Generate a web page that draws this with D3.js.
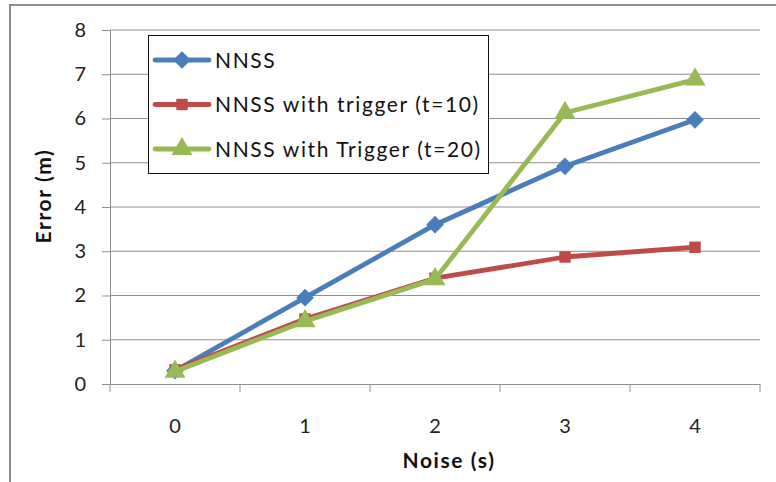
<!DOCTYPE html>
<html>
<head>
<meta charset="utf-8">
<script src="https://cdn.jsdelivr.net/npm/d3@7"></script>
<style>
  html, body { margin: 0; padding: 0; background: #fff; }
  svg { display: block; font-family: Lato, "Open Sans", sans-serif; }
</style>
</head>
<body>
<svg id="chart" width="776" height="482"></svg>
<script>
// Noise levels (s) on the x axis
const categories = ["0", "1", "2", "3", "4"];
// Localisation error (m) per method
const nnss = [0.30, 1.95, 3.60, 4.92, 5.97];
const nnssTrigger10 = [0.32, 1.47, 2.39, 2.87, 3.09];
const nnssTrigger20 = [0.28, 1.42, 2.37, 6.13, 6.88];
const yTicks = [0, 1, 2, 3, 4, 5, 6, 7, 8];

const seriesNames = ["NNSS", "NNSS with trigger (t=10)", "NNSS with Trigger (t=20)"];
const seriesColors = ["#4A7EBB", "#BE4B48", "#98B954"];
const seriesShapes = [d3.symbolDiamond2, d3.symbolSquare, d3.symbolTriangle];
const seriesSizes = [200, 130, 190];

const series = [nnss, nnssTrigger10, nnssTrigger20].map((values, i) => ({
  name: seriesNames[i], values, color: seriesColors[i], shape: seriesShapes[i], size: seriesSizes[i]
}));

const svg = d3.select("#chart");
const plot = { left: 110, right: 760, top: 30, bottom: 384 };
const font = "Lato, sans-serif";
const spacing = 1.6;

// outer chart frame
svg.append("path")
  .attr("d", "M10,490 L10,5 L790,5")
  .attr("fill", "none").attr("stroke", "#8c8c8c").attr("stroke-width", 2);

const x = d3.scaleBand().domain(categories).range([plot.left, plot.right]);
const y = d3.scaleLinear().domain([0, 8]).range([plot.bottom, plot.top]);

// horizontal gridlines
svg.append("g").selectAll("line").data(yTicks.slice(1)).join("line")
  .attr("x1", plot.left).attr("x2", plot.right)
  .attr("y1", d => y(d)).attr("y2", d => y(d))
  .attr("stroke", "#8e8e8e").attr("stroke-width", 1);

// y axis
const yAxis = svg.append("g")
  .attr("transform", `translate(${plot.left},0)`)
  .call(d3.axisLeft(y).tickValues(yTicks).tickSize(8).tickPadding(16).tickFormat(d3.format("d")));
yAxis.select(".domain").attr("stroke", "#8e8e8e");
yAxis.selectAll(".tick line").attr("stroke", "#8e8e8e");
yAxis.selectAll(".tick text").attr("font-size", 20).attr("fill", "#222").attr("font-family", font);

// x axis with tick marks at the band edges
const xAxis = svg.append("g")
  .attr("transform", `translate(0,${plot.bottom})`)
  .call(d3.axisBottom(x).tickSize(0).tickPadding(35));
xAxis.select(".domain").attr("stroke", "#8e8e8e");
xAxis.selectAll(".tick text").attr("font-size", 20).attr("fill", "#222").attr("font-family", font);
const edges = categories.map(c => x(c)).concat([x(categories[categories.length - 1]) + x.bandwidth()]);
xAxis.selectAll(".edge").data(edges).join("line")
  .attr("class", "edge")
  .attr("x1", d => d).attr("x2", d => d)
  .attr("y1", 0).attr("y2", 8)
  .attr("stroke", "#8e8e8e");

// axis titles
svg.append("text")
  .attr("x", 449).attr("y", 468)
  .attr("text-anchor", "middle")
  .attr("font-size", 21).attr("font-weight", "bold").attr("fill", "#111")
  .attr("letter-spacing", spacing)
  .text("Noise (s)");
svg.append("text")
  .attr("transform", "translate(51,196) rotate(-90)")
  .attr("text-anchor", "middle")
  .attr("font-size", 21).attr("font-weight", "bold").attr("fill", "#111")
  .attr("letter-spacing", spacing)
  .text("Error (m)");

const cx = d => x(d) + x.bandwidth() / 2;
const line = d3.line().x((d, i) => cx(categories[i])).y(d => y(d));

// series lines and markers
series.forEach(s => {
  const g = svg.append("g");
  g.append("path")
    .attr("d", line(s.values))
    .attr("fill", "none").attr("stroke", s.color)
    .attr("stroke-width", 4.8).attr("stroke-linejoin", "round");
  g.selectAll("path.marker").data(s.values).join("path")
    .attr("class", "marker")
    .attr("transform", (d, i) => `translate(${cx(categories[i])},${y(d)})`)
    .attr("d", d3.symbol(s.shape, s.size))
    .attr("fill", s.color);
});

// legend
const legend = svg.append("g");
legend.append("rect")
  .attr("x", 148.5).attr("y", 35.5).attr("width", 340).attr("height", 138)
  .attr("fill", "#fff").attr("stroke", "#111").attr("stroke-width", 1);
series.forEach((s, i) => {
  const ly = 60 + i * 44.5;
  legend.append("line")
    .attr("x1", 155).attr("x2", 209).attr("y1", ly).attr("y2", ly)
    .attr("stroke", s.color).attr("stroke-width", 4.8).attr("stroke-linecap", "round");
  legend.append("path")
    .attr("transform", `translate(182,${ly})`)
    .attr("d", d3.symbol(s.shape, s.size))
    .attr("fill", s.color);
  legend.append("text")
    .attr("x", 215).attr("y", ly).attr("dy", "0.36em")
    .attr("font-size", 21).attr("fill", "#111")
    .attr("letter-spacing", spacing)
    .text(s.name);
});
</script>
</body>
</html>
